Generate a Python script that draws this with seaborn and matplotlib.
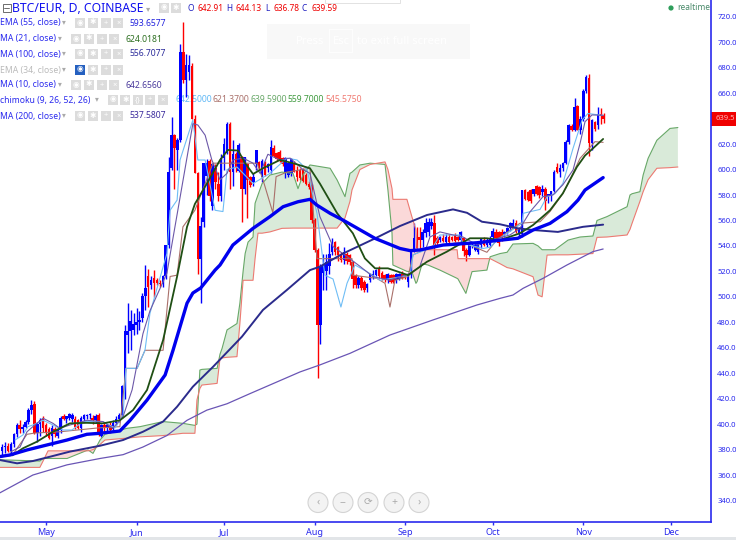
import numpy as np
import matplotlib
matplotlib.use('Agg')
import matplotlib.pyplot as plt
from matplotlib.patches import Rectangle, Circle
import seaborn as sns

# daily candles, 16 Apr to 8 Nov
opens = [379,382,383,379,384,392,399,396,398,402,411,416,393,400,404,
         399,396,391,396,391,395,406,404,405,404,404,403,397,404,406,407,405,403,407,391,399,397,399,396,401,404,407,424,470,473,474,
         478,480,483,501,516,509,515,513,511,510,516,541,601,627,615,623,692,670,677,681,640,597,530,559,595,607,571,601,589,579,
         609,613,636,598,612,599,610,585,604,594,590,604,606,594,606,601,600,617,613,614,609,597,596,597,605,600,600,600,596,589,588,
         560,537,478,519,520,524,535,543,539,534,529,534,533,527,517,509,515,512,507,513,516,517,522,519,517,513,517,517,513,514,518,
         517,512,517,537,547,547,545,550,551,556,558,546,545,546,543,547,547,548,547,545,546,537,533,540,537,535,541,545,541,541,
         547,551,551,551,549,551,554,555,558,549,549,584,582,584,581,587,586,582,585,579,579,583,602,598,601,605,622,634,631,650,631,
         640,662,672,621,637,635,644,642.91]
highs = [384,386,385,386,393,401,403,400,403,413,419,418,402,405,406,
         401,398,399,398,396,406,408,406,409,409,406,404,406,408,408,409,407,408,409,400,402,400,402,403,406,409,431,478,495,490,487,
         491,489,503,525,522,516,521,515,513,517,541,610,641,628,625,699,716,691,690,684,643,598,563,605,608,608,605,604,598,612,
         625,637,637,623,614,621,611,610,605,595,597,615,607,608,607,605,623,619,614,615,610,610,605,609,607,603,601,601,597,591,589,
         562,538,526,534,534,542,546,544,540,535,539,535,534,528,518,516,516,513,511,519,521,522,524,520,518,519,518,518,519,519,520,
         518,518,537,558,555,555,553,562,562,562,564,548,548,549,549,549,548,550,548,552,547,538,542,543,542,544,546,547,546,548,
         554,553,552,553,552,555,559,561,560,555,584,585,583,585,585,588,587,588,586,581,583,600,605,604,606,623,636,636,656,651,642,
         663,674,675,640,638,649,648,644.13]
lows = [375,377,378,377,382,390,393,393,397,400,408,392,386,391,394,
        391,388,383,390,389,393,403,401,403,402,396,396,394,402,404,404,400,401,391,390,394,394,393,395,399,402,405,420,456,458,470,
        471,474,480,490,492,506,500,509,508,508,514,538,600,585,600,622,668,657,670,640,597,518,495,555,580,575,568,585,575,575,
        600,612,585,587,598,598,559,581,562,586,587,600,600,590,595,598,597,610,607,606,603,593,594,595,598,591,592,590,588,585,558,
        535,436,463,505,505,518,533,533,528,527,526,526,525,507,507,507,505,504,504,512,514,516,515,513,512,511,511,511,511,513,514,
        514,508,515,535,537,537,539,547,548,553,533,541,543,543,541,542,544,543,544,542,532,528,532,538,536,534,538,540,539,539,
        545,546,540,544,547,549,552,554,550,546,547,576,575,574,579,580,578,579,568,574,575,582,597,594,599,604,620,630,630,631,628,
        638,660,611,615,630,632,636,636.78]
closes = [382,383,379,384,392,399,396,398,402,411,415,393,400,403,397,
          393,389,397,392,395,405,404,406,408,407,398,397,405,407,407,408,403,406,392,399,397,399,395,401,404,407,430,473,473,481,479,
          480,482,501,507,508,513,511,511,510,516,541,598,627,617,623,692,670,682,682,640,597,530,556,605,605,579,604,590,579,609,
          620,636,598,612,601,619,585,610,592,588,594,615,601,607,596,604,618,611,608,607,604,609,605,608,598,594,593,591,589,586,560,
          537,478,524,525,527,534,542,535,533,529,535,528,527,514,509,515,507,505,510,518,518,521,516,514,513,518,512,512,518,518,515,
          515,517,537,546,538,545,551,558,559,559,541,542,547,544,547,543,545,544,545,551,536,533,541,541,541,543,546,541,545,546,
          552,546,542,546,551,554,558,558,551,553,584,577,576,575,585,581,580,585,575,581,583,598,598,601,605,622,635,631,649,631,640,
          662,673,621,639,632,644,642,639.59]
first_candle_day = -15

# x values of the lines are days counted from 1 May
ema55_days = [-15.8,-12.3,-6.5,0.3,7.2,14,18.5,25.3,28.8,34.6,40.8,43.5,48.3,50.3,53,57.9,59.6,64,70.9,76.7,81.2,86.3,90.4,92.8,97.3,101.7,112.7,121.2,124.7,128,136,147.6,161.6,166.8,172.6,178.4,182.2,184.6,190.8]
ema55_vals = [374.5,375.8,379.7,383.6,387.5,392,392.8,394.6,403,418.9,438.6,458,495,503,507,521,525,540.7,553.8,563,570.8,574.7,576.6,572,565.6,560.3,545.9,538,536.3,536.8,540.7,542.5,546,552.5,557.7,566.9,576,583.9,593.66]

ema21_days = [-15.8,-11.3,-7.9,-3.1,2.4,8.2,14,19.5,25.3,29.8,34.6,40.1,44.9,48.3,51,55.1,59.6,62.3,65.8,68.2,70.9,74.3,80.1,84.6,90.4,93.8,99.7,105.1,109.2,112.7,117.1,120.5,124,130.5,137.3,145.2,151,155.5,162.3,166.8,172.6,177,181.8,184.6,187.3,190.8]
ema21_vals = [374.5,375.8,381,386.2,394,400.6,401,400.6,403,411,426.8,466,516,555,573,589,607.5,615.4,614.9,605,596.5,601,607.5,605,601,589,565.7,549.9,530.2,522.4,522.4,519.8,517,527.6,535.5,546,546,544.6,549.9,556.4,568,581.3,602,611,616.6,624.02]

sma100_days = [-15.8,-9.9,-4.5,1.4,8.2,18.5,26.4,33.2,40.1,44.9,50.3,57.2,67.1,74.3,82.5,90.4,93.8,101.7,112.7,121.2,130.5,139.4,144.2,149.3,155.5,161.6,166.8,175.3,183.9,190.8]
sma100_vals = [371.8,369.2,371,374.4,378.4,383,387.5,394,402,413.7,429.4,445,468.7,489.7,505.4,521,523.7,534,545.9,555.6,564.3,568.7,566,559,557,553.8,552.5,551,555,556.71]

sma200_days = [-15.8,-4.5,7.2,18.5,26.4,33.2,41.4,48.3,55.1,62,69.9,87,93.8,104.1,117.8,132.5,147.6,155.5,159.9,163.4,170.2,178.4,187.3,190.8]
sma200_vals = [346,360,368,373,376,382,391,403,411,416,424,441,446.5,455.6,470,481.8,493.6,498.8,501.4,506.7,514.5,525,535.5,537.58]

sma10_days = [-12.3,-8.9,-6.5,-4.5,-1,2.4,4.8,8.2,14,19.5,22.9,26.4,29.5,33.2,35.6,41.4,50.3,52,54.5,56.8,59.6,62,64,67.5,70.9,73.3,76,80.1,83.6,88,90.4,93.8,98.3,103.1,107.5,112,117.8,124.7,128,131.5,134.9,139.4,142.8,147.6,152.7,158.9,162.3,165.8,170.2,173.6,177,180.5,182.9,184.6,187,190.8]
sma10_vals = [378,382,394,398,404.6,400.6,396.7,399.3,403,402,396.7,406,427,471,489,518.5,636,635,627,607.5,592,597,607.5,609,605,597,612,607.5,609,600,597,563,539.5,531.6,524,515.8,513,518.5,523.7,547,551,548.6,547,540.8,544.7,548.6,553.8,566.9,578.7,580,588,599.7,620.6,637.6,642.9,642.66]

tenkan_days = [-10.6,-7.9,-6.2,-4.5,-1,2.4,5.8,8.9,12.7,19.5,23.6,26.4,27.4,31.2,33.9,35.6,41.4,42.5,44.9,45.9,50.3,52,54.5,57.9,60.6,62,65.4,70.9,76.7,82.5,86,89.4,92.8,95.5,98.3,101,103.1,105.8,109.9,114.4,124.7,125.7,132.5,134.9,141.8,142.8,149.7,152.1,154.5,163,163.4,169.2,171.6,174.3,177,180.5,183.6,185.6,190.8]
tenkan_vals = [387.5,391.5,398,399.3,403,399.3,395.4,395.4,402,402,397,407,443.8,443.8,458,487,534,568,576,607.5,639,607.5,607.5,568,567,600,602,589,597,609,607.5,600,565.7,517,514,492,510.7,525,519.8,513,517,533,539,548.6,548.6,542,538,539,544.6,557.7,565.6,568.7,578.7,581,589,616.7,638.9,644,642.5]

kijun_days = [-11.6,-9.6,-6.5,-3.8,4.8,17.8,25.3,27.4,31.2,33.9,40.1,42.5,44.9,46.9,51,57.2,72.3,74.3,77.7,78.8,82.5,90.4,92.8,104.8,105.1,113.3,116.1,117.8,119.5,124,125.7,132.5,142.8,151,154.5,162.3,169.2,172.6,177,178.8,182.9,188,190.8]
kijun_vals = [375,382,392,393,394,397,398,443.8,443.8,458,458,516,517,555,568,605,605,592,566,594.4,598,601,530,530,517,514.5,510.6,492,513,516,533,540,543,535,545,557.8,559,567,581,589,608.8,621.9,621.37]

cloud_days = [-15.8,-2.1,-1,0.7,7.2,14.4,16.1,18.5,20.2,27.7,32.2,40.1,46.9,51,51.7,52.7,53.4,58.6,59.6,60.3,62,65.4,66.4,67.5,68.2,69.2,70.9,71.6,72.6,74,76.7,80.8,84.6,86.3,88,90.4,97.3,99.7,102.4,104.1,104.8,107.5,111,116.1,117.1,118.5,118.8,123.6,125.3,126.7,127.1,128.8,130.8,134.9,140.8,141.1,143.8,145.9,151,152.1,155.5,157.9,159.9,166.8,168.5,169.9,171.6,174.3,178.8,182.9,187.3,188.7,192.1,199,200,200.7,203.4,204.5,206.2,209.2,213.7,216.4]
senkou_a = [372,371,373,373,373,379.7,377,387.5,392,396.7,398,402,400.6,399,400,442.5,443,443.8,455,459.5,474,479,495,520,534,543,547,573.5,580,589,595.7,598,597,585,595.7,603.6,601,591.8,578.7,597,598,603.6,605,604,584,550,525,520,519.8,510.6,512,526,525,521,514.5,514,502.7,519.8,521,531.5,534,535,541.5,542,540,537,537,537,544.6,547,547.8,560,563,570.8,580,581,582.6,595.7,608.8,623,632.3,633]
senkou_b = [366,366,371,379,379,379,380,384,387.5,389,390,391,392.8,392.8,419,428,430.7,432,451.7,452,452.5,453,479,513,513,513,513,530,550,550,551,553.8,554,554,554,554,554,554,562,575,584,600,604,606,600,585,576.6,576.6,563,552.5,537,537,537,537,537,530,530,530,530,530,526,523,522,515.8,501.4,500,532.8,533,533,533.5,534,546.7,547,548.6,553,557.7,575,582.6,592,601,601.5,602]

month_days = [0,31,61,92,123,153,184,214]
month_labels = ['May','Jun','Jul','Aug','Sep','Oct','Nov','Dec']
price_ticks = list(range(340,721,20))

legend_names = ['EMA (55, close)','MA (21, close)','MA (100, close)','EMA (34, close)','MA (10, close)','chimoku (9, 26, 52, 26)','MA (200, close)']
legend_values = ['593.6577','624.0181','556.7077','','642.6560','','537.5807']
ichimoku_values = ['642.5000','621.3700','639.5900','559.7000','545.5750']

sns.set_theme(style='white')
plt.rcParams['font.family'] = ['Noto Sans', 'DejaVu Sans']

BLUE = '#2a2aee'
fig = plt.figure(figsize=(7.36,5.4), dpi=100, facecolor='white')

# chrome underneath the chart, in picture pixels
ov = fig.add_axes([0,0,1,1], zorder=0)
ov.set_xlim(0,736)
ov.set_ylim(540,0)
ov.axis('off')

ax = fig.add_axes([0,18/540,711/736,522/540], zorder=1)
ax.patch.set_alpha(0)

days = np.arange(len(opens)) + first_candle_day
opens = np.array(opens)
closes = np.array(closes)
colors = np.where(closes >= opens, '#0000ff', '#ff0000')

ax.fill_between(cloud_days, senkou_a, senkou_b, where=np.array(senkou_a) >= np.array(senkou_b),
                interpolate=True, color='#d9ead9', lw=0, zorder=1)
ax.fill_between(cloud_days, senkou_a, senkou_b, where=np.array(senkou_a) < np.array(senkou_b),
                interpolate=True, color='#fbd9d9', lw=0, zorder=1)

ax.vlines(days, lows, highs, colors=colors, lw=1.0, zorder=2)
ax.bar(days, np.abs(closes-opens), bottom=np.minimum(opens,closes), width=0.88, color=colors, lw=0, zorder=2)

lines = [(senkou_a, cloud_days, '#68a868', 0.8),
         (senkou_b, cloud_days, '#ec7a72', 0.8),
         (kijun_vals, kijun_days, '#a9706a', 0.8),
         (tenkan_vals, tenkan_days, '#6fbdf5', 0.8),
         (sma10_vals, sma10_days, '#6c58a8', 0.8),
         (sma200_vals, sma200_days, '#6a55b5', 0.9),
         (sma100_vals, sma100_days, '#2b2b8c', 1.4),
         (ema21_vals, ema21_days, '#1f4f14', 1.3),
         (ema55_vals, ema55_days, '#0000ee', 2.4)]
for vals, xs, col, lw in lines:
    sns.lineplot(x=xs, y=vals, ax=ax, color=col, linewidth=lw, sort=False, estimator=None, zorder=3,
                 solid_joinstyle='round')

ax.set_xlim(-15.75,227.74)
ax.set_ylim(323.1,733.2)
ax.set_xticks(month_days)
ax.set_xticklabels(month_labels, fontsize=6.5, fontweight='bold', color=BLUE)
ax.yaxis.tick_right()
ax.set_yticks(price_ticks)
# the 640.0 label sits behind the last price tag
ax.set_yticklabels(['' if p == 640 else '%.1f' % p for p in price_ticks], fontsize=5.5, color=BLUE)
ax.tick_params(axis='both', length=2.5, width=1, color=BLUE, pad=2, bottom=True, right=True, left=False)
ax.set_xlabel('')
ax.set_ylabel('')
sns.despine(ax=ax, top=True, left=True, right=False, bottom=False)
ax.spines['right'].set_color(BLUE)
ax.spines['bottom'].set_color(BLUE)
ax.spines['right'].set_linewidth(1.2)
ax.spines['bottom'].set_linewidth(1.2)

# title row
ov.add_patch(Rectangle((2.5,4),8,8,fc='white',ec='#555555',lw=0.6))
ov.plot([4,9],[8,8],color='#555555',lw=0.6)
ov.text(12,8.5,'BTC/EUR, D, COINBASE',fontsize=8.8,color='#1010ee',va='center')
ov.text(148,8.5,'▾',fontsize=6,color='#aaaaaa',va='center',ha='center')

def icon(x, y, glyph, fc='#dcdcdc', w=10):
    ov.add_patch(Rectangle((x,y-5),w,10,fc=fc,lw=0))
    ov.text(x+w/2,y,glyph,fontsize=5.5,color='white',ha='center',va='center',fontweight='bold')

icon(159,8,'◉')
icon(171,8,'✱')
for x, letter, val in [(188,'O','642.91'),(226,'H','644.13'),(265,'L','636.78'),(302,'C','639.59')]:
    ov.text(x,8.5,letter,fontsize=6,color='#2020c0',va='center')
    ov.text(x+9,8.5,val,fontsize=6,color='#ee0000',va='center')

row_y = [23,39,54,70,85,100,116]
row_cols = ['#2a2aee','#2a2aee','#2a2aee','#bbbbbb','#2a2aee','#2a2aee','#2a2aee']
row_arrow = [64,60,64,64,60,97,64]
val_cols = ['#2222dd','#2c6e20','#2a2a9a','','#4a3a9c','','#3a2a9c']
for i, y in enumerate(row_y):
    ov.text(0,y,legend_names[i],fontsize=6.2,color=row_cols[i],va='center')
    ov.text(row_arrow[i],y,'▾',fontsize=5.5,color='#aaaaaa',va='center',ha='center')
    x0 = row_arrow[i] + 11
    if i == 5:
        for k, g in enumerate(['◉','✱','{}','+','×']):
            icon(x0+k*12.4,y,g)
        for k, (v, c) in enumerate(zip(ichimoku_values,['#60b8f5','#a9706a','#68a868','#3f9a3f','#f07a72'])):
            ov.text(175+k*37.6,y,v,fontsize=6.2,color=c,va='center')
    else:
        for k, g in enumerate(['◉','✱','+','×']):
            icon(x0+k*12.8,y,g,fc='#2560c0' if (i == 3 and k == 0) else '#dcdcdc')
        ov.text(row_arrow[i]+65,y,legend_values[i],fontsize=6.2,color=val_cols[i] or '#000000',va='center')

# fullscreen hint, realtime flag, last price tag, bottom strip
ov.add_patch(Rectangle((267,24),203,35,fc='#f8f8f8',lw=0))
ov.add_patch(Rectangle((329,29),23,23,fc='none',ec='white',lw=0.6))
ov.text(296,41,'Press',fontsize=8,color='white',va='center')
ov.text(333,41,'Esc',fontsize=8,color='white',va='center')
ov.text(357,41,'to exit full screen',fontsize=8,color='white',va='center')
ov.add_patch(Rectangle((325,-5),75,8,fc='white',ec='#dddddd',lw=0.6))

ov.add_patch(Circle((671,8),2.6,fc='#2e9e5b',lw=0))
ov.text(677,8,'realtime',fontsize=6,color='#4a8a6a',va='center')

ov.add_patch(Rectangle((711,112),25,14,fc='#f00000',lw=0))
ov.text(716,119,'639.5',fontsize=5.5,color='#ffb8b8',va='center')

ov.add_patch(Rectangle((0,537),736,3,fc='#e2e5e8',lw=0))

for cx, g in zip([318,343,368,394,419],['‹','−','⟳','+','›']):
    ov.add_patch(Circle((cx,502.5),10,fc='#f3f3f3',ec='#d4d4d4',lw=0.8))
    ov.text(cx,502.5,g,fontsize=7.5,color='#aaaaaa',ha='center',va='center')

fig.savefig('out.png', dpi=100)
